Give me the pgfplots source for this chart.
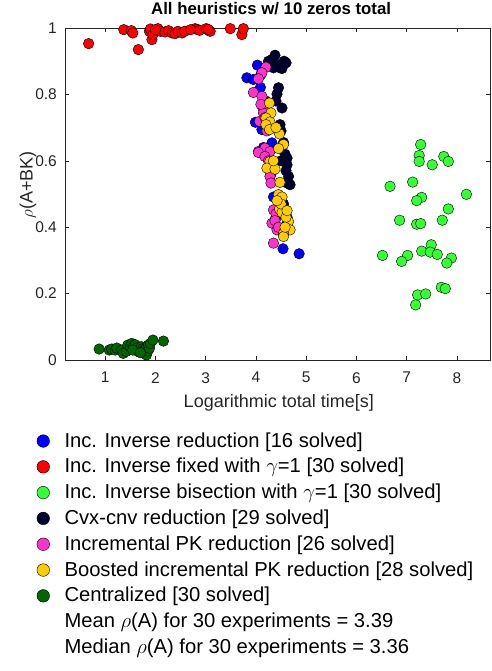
\documentclass[border=0pt]{standalone}
\usepackage{fontspec}
\setmainfont{Liberation Sans}
\usepackage{pgfplots}
\pgfplotsset{compat=1.18}
\definecolor{cBlue}{HTML}{0000FF}
\definecolor{cRed}{HTML}{FF0000}
\definecolor{cGreen}{HTML}{33FF33}
\definecolor{cNavy}{HTML}{000033}
\definecolor{cPink}{HTML}{FF33CC}
\definecolor{cGold}{HTML}{FFCC00}
\definecolor{cDark}{HTML}{006600}
\definecolor{axgray}{HTML}{262626}

\begin{document}
\begin{tikzpicture}
\useasboundingbox (-65pt,-311pt) rectangle (426pt,360pt);
\begin{axis}[
  scale only axis, width=425pt, height=332pt,
  xmin=0.2, xmax=8.66, ymin=0, ymax=1,
  xtick={1,2,...,8}, ytick={0,0.2,0.4,0.6,0.8,1},
  yticklabels={0,0.2,0.4,0.6,0.8,1},
  axis line style={axgray, line width=0.5pt},
  tick style={axgray, line width=0.5pt}, major tick length=4pt,
  tick label style={font=\fontsize{15.5}{18}\selectfont, text=axgray},
  /pgf/number format/assume math mode=true,
  xticklabel style={inner sep=0pt, anchor=north, yshift=-12pt},
  yticklabel style={inner sep=0pt, anchor=east, xshift=-8pt},
  title={All heuristics w/ 10 zeros total},
  title style={font=\bfseries\fontsize{16.8}{19}\selectfont, at={(axis description cs:0.485,1.024)}, anchor=base, inner sep=0pt},
  xlabel={Logarithmic total time[s]},
  xlabel style={font=\fontsize{18}{21}\selectfont, text=axgray, at={(axis description cs:0.503,-0.1416)}, anchor=base, inner sep=0pt},
  ylabel={$\rho$(A+BK)},
  ylabel style={font=\fontsize{18}{21}\selectfont, text=axgray, at={(axis description cs:-0.087,0.527)}, anchor=center, inner sep=0pt},
  every axis plot/.append style={only marks, mark=*, mark size=5.3pt, mark options={draw=black, line width=0.5pt}},
  legend image code/.code={\draw[#1, mark size=6.3pt] plot coordinates {(0pt,0pt)};},
  legend cell align=left,
  legend style={draw=none, fill=none, at={(axis description cs:-0.066,-0.22)}, anchor=north west,
    font=\fontsize{20.2}{24}\selectfont, inner sep=0pt, outer sep=0pt, row sep=9.8pt, column sep=15pt,
    nodes={inner sep=0pt, text height=14pt, text depth=2pt}},
]
% Inc. Inverse reduction
\addplot[mark options={fill=cBlue}] coordinates {
(4.03,0.888) (3.82,0.850) (3.95,0.845) (4.09,0.821) (3.99,0.716) (4.12,0.694)
(4.32,0.654) (4.35,0.491) (4.54,0.335) (4.86,0.320) (4.10,0.860) (4.20,0.780)
(4.25,0.700) (4.30,0.560) (4.40,0.430) (4.15,0.640)};
\addlegendentry{Inc. Inverse reduction [16 solved]}
% Inc. Inverse fixed
\addplot[mark options={fill=cRed}] coordinates {
(0.67,0.953) (1.37,0.995) (1.52,0.992) (1.55,0.985) (1.66,0.935) (1.88,0.990)
(1.90,0.997) (1.93,0.965) (1.95,0.980) (2.05,0.998) (2.10,0.990) (2.19,0.988)
(2.26,0.992) (2.33,0.985) (2.39,0.983) (2.45,0.990) (2.53,0.985) (2.58,0.990)
(2.79,0.998) (2.83,0.996) (2.88,0.993) (3.01,0.998) (3.06,0.993) (3.09,0.990)
(3.05,0.996) (3.49,0.998) (3.72,0.980) (3.75,0.998) (2.00,0.995) (2.70,0.995)};
\addlegendentry{Inc. Inverse fixed with $\gamma$=1 [30 solved]}
% Inc. Inverse bisection
\addplot[mark options={fill=cGreen}] coordinates {
(7.28,0.649) (7.25,0.616) (7.25,0.598) (7.51,0.588) (7.74,0.613) (7.83,0.598)
(6.67,0.523) (7.12,0.536) (8.19,0.499) (7.30,0.490) (7.20,0.480) (7.83,0.455)
(6.86,0.421) (7.20,0.409) (7.28,0.411) (7.71,0.421) (7.49,0.347) (7.30,0.328)
(7.47,0.325) (7.61,0.318) (6.52,0.315) (7.02,0.315) (6.90,0.297) (7.89,0.307)
(7.80,0.292) (7.22,0.196) (7.38,0.199) (7.18,0.166) (7.69,0.219) (7.77,0.215)};
\addlegendentry{Inc. Inverse bisection with $\gamma$=1 [30 solved]}
% Cvx-cnv reduction
\addplot[mark options={fill=cNavy}] coordinates {
(4.38,0.918) (4.32,0.905) (4.56,0.900) (4.52,0.878) (4.25,0.900) (4.42,0.890)
(4.48,0.880) (4.60,0.895) (4.42,0.801) (4.52,0.759) (4.48,0.709) (4.40,0.780)
(4.50,0.690) (4.62,0.608) (4.62,0.588) (4.58,0.620) (4.65,0.553) (4.68,0.528)
(4.62,0.533) (4.60,0.570) (4.58,0.452) (4.55,0.470) (4.62,0.430) (4.60,0.405)
(4.55,0.380) (4.50,0.600) (4.45,0.820) (4.35,0.880) (4.55,0.655)};
\addlegendentry{Cvx-cnv reduction [29 solved]}
% Incremental PK reduction
\addplot[mark options={fill=cPink}] coordinates {
(4.20,0.882) (4.12,0.865) (4.05,0.847) (3.95,0.806) (4.12,0.794) (4.14,0.759)
(4.15,0.744) (4.07,0.719) (4.18,0.730) (4.05,0.628) (4.18,0.638) (4.28,0.628)
(4.05,0.625) (4.18,0.613) (4.28,0.553) (4.30,0.533) (4.35,0.452) (4.32,0.412)
(4.42,0.392) (4.35,0.352) (4.25,0.600) (4.40,0.440) (4.38,0.420) (4.45,0.400)
(4.22,0.690) (4.10,0.770)};
\addlegendentry{Incremental PK reduction [26 solved]}
% Boosted incremental PK reduction
\addplot[mark options={fill=cGold}] coordinates {
(4.27,0.774) (4.30,0.744) (4.20,0.729) (4.28,0.717) (4.20,0.709) (4.27,0.694)
(4.47,0.681) (4.55,0.649) (4.45,0.637) (4.28,0.598) (4.22,0.578) (4.38,0.575)
(4.48,0.535) (4.45,0.498) (4.52,0.491) (4.47,0.455) (4.52,0.444) (4.65,0.417)
(4.68,0.392) (4.55,0.382) (4.55,0.372) (4.60,0.430) (4.50,0.470) (4.42,0.480)
(4.58,0.400) (4.35,0.600) (4.40,0.700) (4.62,0.450)};
\addlegendentry{Boosted incremental PK reduction [28 solved]}
% Centralized
\addplot[mark options={fill=cDark}] coordinates {
(0.88,0.033) (1.08,0.030) (1.13,0.033) (1.20,0.030) (1.23,0.036) (1.33,0.030)
(1.36,0.020) (1.42,0.026) (1.45,0.045) (1.50,0.040) (1.53,0.050) (1.57,0.043)
(1.60,0.046) (1.63,0.036) (1.66,0.025) (1.68,0.032) (1.72,0.040) (1.75,0.034)
(1.78,0.030) (1.80,0.020) (1.82,0.015) (1.83,0.040) (1.85,0.027) (1.86,0.045)
(1.88,0.035) (1.90,0.050) (1.95,0.060) (2.16,0.057) (1.55,0.030) (1.70,0.022)};
\addlegendentry{Centralized [30 solved]}
\addlegendimage{empty legend}
\addlegendentry{Mean $\rho$(A) for 30 experiments = 3.39}
\addlegendimage{empty legend}
\addlegendentry{Median $\rho$(A) for 30 experiments = 3.36}
\end{axis}
\end{tikzpicture}
\end{document}
